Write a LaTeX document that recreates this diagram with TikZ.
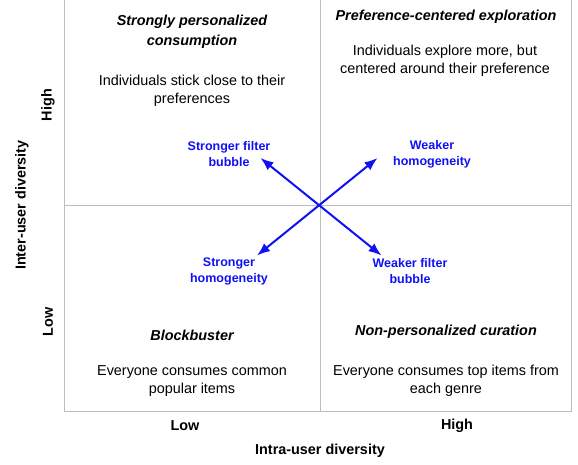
\documentclass[tikz,border=0pt]{standalone}
\usepackage{fontspec}
\setmainfont{Liberation Sans}
\usepackage{tikz}
\usetikzlibrary{arrows.meta}
\usepackage{xcolor}
\definecolor{dir}{HTML}{1010F5}
\definecolor{grid}{HTML}{BDBDBD}
\tikzset{ttl/.style={font=\fontsize{14.4}{20}\selectfont\bfseries\itshape, align=center}}
\tikzset{desc/.style={font=\fontsize{14.4}{18}\selectfont, align=center}}
\tikzset{lbl/.style={font=\fontsize{12.5}{16}\selectfont\bfseries, text=dir, align=center}}
\tikzset{axis/.style={font=\fontsize{14.4}{16}\selectfont\bfseries}}
\tikzset{arr/.style={draw=dir, line width=2pt, {Latex[length=13pt,width=10pt]}-{Latex[length=13pt,width=10pt]}}}

\begin{document}
\begin{tikzpicture}[x=1pt, y=-1pt]
    \useasboundingbox (0,0) rectangle (578,464);
    \draw[grid, line width=1pt] (64,0) -- (64,411) -- (571,411) -- (571,0);
    \draw[grid, line width=1pt] (320,0) -- (320,411);
    \draw[grid, line width=1pt] (64,205.5) -- (571,205.5);

    \node[ttl] (title1) at (192, 32) {Strongly personalized\\consumption};
    \node[desc] (desc1) at (192, 91) {Individuals stick close to their\\preferences};
    \node[ttl] (title2) at (446, 17) {Preference-centered exploration};
    \node[desc] (desc2) at (445, 61) {Individuals explore more, but\\centered around their preference};
    \node[ttl] (title3) at (192, 335) {Blockbuster};
    \node[desc] (desc3) at (192, 381) {Everyone consumes common\\popular items};
    \node[ttl] (title4) at (446, 331.5) {Non-personalized curation};
    \node[desc] (desc4) at (446, 381) {Everyone consumes top items from\\each genre};

    \node[lbl] (lab1) at (229, 154) {Stronger filter\\bubble};
    \node[lbl] (lab2) at (432, 154) {Weaker\\homogeneity};
    \node[lbl] (lab3) at (229, 271) {Stronger\\homogeneity};
    \node[lbl] (lab4) at (410, 271) {Weaker filter\\bubble};

    \coordinate (sf) at (260.5, 158);
    \coordinate (wh) at (377.5, 158);
    \coordinate (sh) at (257, 255.5);
    \coordinate (wf) at (381.5, 255.5);
    \draw[arr] (sf) -- (wf);
    \draw[arr] (sh) -- (wh);

    \node[axis] (xlow) at (185, 426) {Low};
    \node[axis] (xhigh) at (457, 426) {High};
    \node[axis] (xlabel) at (320, 451) {Intra-user diversity};
    \node[axis, rotate=90] (ylabel) at (22, 205) {Inter-user diversity};
    \node[axis, rotate=90] (yhigh) at (48, 105) {High};
    \node[axis, rotate=90] (ylow) at (48, 322) {Low};
\end{tikzpicture}
\end{document}
